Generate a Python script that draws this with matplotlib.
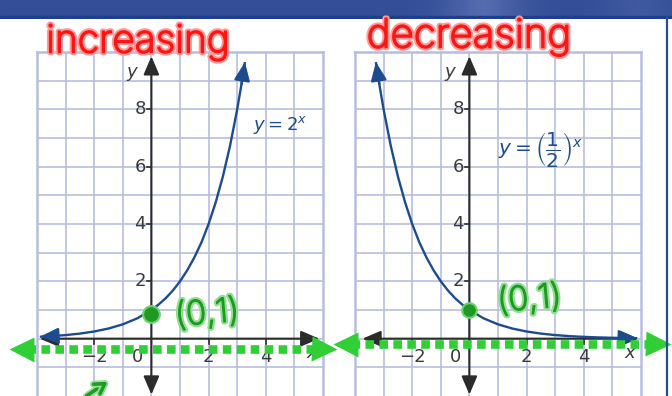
import matplotlib
matplotlib.use("Agg")
import matplotlib.pyplot as plt
import matplotlib.patheffects as pe
from matplotlib.patches import Rectangle
from matplotlib import font_manager
import numpy as np

# ---------------- data ----------------
x_inc = [-3.9, -3.5, -3.0, -2.5, -2.0, -1.5, -1.0, -0.5, 0.0, 0.25, 0.5, 0.75, 1.0,
         1.25, 1.5, 1.75, 2.0, 2.25, 2.5, 2.75, 3.0, 3.15, 3.27]
y_inc = [0.067, 0.088, 0.125, 0.177, 0.25, 0.354, 0.5, 0.707, 1.0, 1.19, 1.41, 1.68, 2.0,
         2.38, 2.83, 3.36, 4.0, 4.76, 5.66, 6.73, 8.0, 8.88, 9.65]
x_dec = [-3.27, -3.15, -3.0, -2.75, -2.5, -2.25, -2.0, -1.75, -1.5, -1.25, -1.0, -0.75, -0.5,
         -0.25, 0.0, 0.5, 1.0, 1.5, 2.0, 2.5, 3.0, 3.5, 4.0, 4.5, 5.0, 5.5, 5.87]
y_dec = [9.65, 8.88, 8.0, 6.73, 5.66, 4.76, 4.0, 3.36, 2.83, 2.38, 2.0, 1.68, 1.41,
         1.19, 1.0, 0.707, 0.5, 0.354, 0.25, 0.177, 0.125, 0.088, 0.0625, 0.044, 0.031, 0.022, 0.017]

ytick_vals = [2, 4, 6, 8]
ytick_labels = ["2", "4", "6", "8"]
xtick_vals = [-2, 2, 4]
xtick_labels = ["\u22122", "2", "4"]
xlabel_zero = "0"

titles = ["increasing", "decreasing"]
equations = [r"$y = 2^x$", r"$y = \left(\dfrac{1}{2}\right)^x$"]
point_labels = ["(0,1)", "(0,1)"]
dot_y = [0.85, 1.0]
green_line_y = [-0.35, -0.2]
green_line_x = [(-4.9, 6.4), (-4.7, 6.95)]

# thin font for hand-written notes
thin = None
for f in font_manager.fontManager.ttflist:
    if f.name in ("Lato", "Open Sans", "Roboto", "DejaVu Sans", "Inter") and f.weight in (100, 200, 250, 275, 300, "light", "extra-light", "thin"):
        thin = f
        break
hand_kw = dict(fontproperties=font_manager.FontProperties(fname=thin.fname)) if thin else dict(fontweight="light")

# ---------------- figure ----------------
W, H = 672, 396
fig = plt.figure(figsize=(W / 100, H / 100), dpi=100)
fig.patch.set_facecolor("white")

# banner at the top
bax = fig.add_axes([0, 1 - 19 / H, 1, 19 / H])
bax.set_axis_off()
xs = np.linspace(0, 1, 300)
grad = np.ones((10, 300)) * (0.45 + 0.25 * np.exp(-((xs - 0.72) / 0.06) ** 2)
                             + 0.1 * np.exp(-((xs - 0.95) / 0.05) ** 2))
bax.imshow(grad, cmap=matplotlib.colors.LinearSegmentedColormap.from_list(
    "bn", ["#24408c", "#4a63a8", "#8fa2d0"]), aspect="auto", vmin=0.3, vmax=1.0,
    extent=[0, 1, 0, 1])
bax.add_patch(Rectangle((0, 0), 1, 0.17, color="#1d3f8c", transform=bax.transAxes))
bax.set_xlim(0, 1); bax.set_ylim(0, 1)

# right border line
fig.add_artist(plt.Line2D([667 / W, 667 / W], [0, 1 - 17 / H], color="#2a4a95", lw=1.6))

GRID = "#b6bde0"
AXC = "#2b2b2b"
BLUE = "#1c4c8e"
GREEN = "#2fcf35"
DKGREEN = "#1e9a22"
RED = "#ff1414"

panels = [(37, x_inc, y_inc), (355, x_dec, y_dec)]
for i, (left_px, xc, yc) in enumerate(panels):
    ax = fig.add_axes([left_px / W, 0, 286 / W, 344 / H])
    ax.set_xlim(-4, 6)
    ax.set_ylim(-2, 10)
    ax.set_xticks([]); ax.set_yticks([])
    for s in ["left", "right", "top"]:
        ax.spines[s].set_color(GRID)
        ax.spines[s].set_linewidth(1.8)
    ax.spines["bottom"].set_visible(False)
    for gx in range(-3, 6):
        ax.axvline(gx, color=GRID, lw=1.2, zorder=0)
    for gy in range(-1, 10):
        ax.axhline(gy, color=GRID, lw=1.2, zorder=0)

    # axes with arrows
    x_left = -3.9 if i == 0 else -3.74
    x_right = 5.87 if i == 0 else 5.9
    ax.annotate("", xy=(x_right, 0), xytext=(x_left, 0),
                arrowprops=dict(arrowstyle="<|-|>,head_length=0.7,head_width=0.3",
                                color=AXC, lw=1.5, shrinkA=0, shrinkB=0,
                                mutation_scale=16), zorder=3)
    ax.annotate("", xy=(0, 9.85), xytext=(0, -1.95),
                arrowprops=dict(arrowstyle="<|-|>,head_length=0.7,head_width=0.3",
                                color=AXC, lw=1.5, shrinkA=0, shrinkB=0,
                                mutation_scale=16), zorder=3)
    for v, lab in zip(ytick_vals, ytick_labels):
        ax.plot([-0.17, 0], [v, v], color=AXC, lw=1.2, zorder=3)
        ax.text(-0.2, v, lab, ha="right", va="center", fontsize=13, color="#3a3a3a")
    for v, lab in zip(xtick_vals, xtick_labels):
        ax.plot([v, v], [0, -0.17], color=AXC, lw=1.2, zorder=3)
        ax.text(v, -0.63, lab, ha="center", va="center", fontsize=13, color="#3a3a3a")
    ax.text(-0.5, -0.63, xlabel_zero, ha="center", va="center", fontsize=13, color="#3a3a3a")
    ax.text(-0.68, 9.3, "y", ha="center", va="center", fontsize=13, style="italic", color="#3a3a3a")
    ax.text(5.6, -0.5, "x", ha="center", va="center", fontsize=13, style="italic", color="#3a3a3a")

    # curve
    ax.plot(xc, yc, color=BLUE, lw=1.7, zorder=4, solid_capstyle="butt")
    for a, b in [(0, 1), (-1, -2)]:
        ax.annotate("", xy=(xc[a], yc[a]), xytext=(xc[b], yc[b]),
                    arrowprops=dict(arrowstyle="-|>,head_length=0.7,head_width=0.3",
                                    color=BLUE, lw=1.7, shrinkA=0, shrinkB=0,
                                    mutation_scale=16), zorder=5)

    # equation
    if i == 0:
        ax.text(4.5, 7.45, equations[0], ha="center", va="center", fontsize=13, color=BLUE)
    else:
        ax.text(2.5, 6.6, equations[1], ha="center", va="center", fontsize=14.5, color=BLUE)

    # green dotted line with arrowheads
    gx0, gx1 = green_line_x[i]
    gy = green_line_y[i]
    ax.plot([gx0 + 0.55, gx1 - 0.55], [gy, gy], color=GREEN, lw=6.2,
            linestyle=(0, (1.0, 0.62)), dash_capstyle="butt", clip_on=False, zorder=6)
    ax.plot([gx0 + 0.35], [gy], marker="<", ms=18, color=GREEN, mec="none", clip_on=False, zorder=6)
    ax.plot([gx1 - 0.35], [gy], marker=">", ms=18, color=GREEN, mec="none", clip_on=False, zorder=6)

    # green dot and label
    ax.plot([0], [dot_y[i]], marker="o", ms=12 if i == 0 else 10.5, color=DKGREEN,
            mec="#6fd070", mew=1.5, zorder=7)
    lx, ly = (1.95, 0.85) if i == 0 else (2.1, 1.35)
    ax.text(lx, ly, point_labels[i], ha="center", va="center", fontsize=24,
            color=DKGREEN, rotation=5, zorder=7,
            path_effects=[pe.Stroke(linewidth=4, foreground="#90e090"),
                          pe.Stroke(linewidth=1.0, foreground=DKGREEN), pe.Normal()], **hand_kw)

    if i == 0:
        ax.annotate("", xy=(-1.45, -1.45), xytext=(-2.35, -2.05),
                    arrowprops=dict(arrowstyle="->,head_length=0.5,head_width=0.3",
                                    color=DKGREEN, lw=2.5, mutation_scale=14,
                                    path_effects=[pe.withStroke(linewidth=5, foreground="#8fe08f")]),
                    annotation_clip=False, zorder=7)

# red handwritten titles
red_fx = [pe.Stroke(linewidth=4, foreground="#ff9a9a"),
          pe.Stroke(linewidth=1.2, foreground=RED), pe.Normal()]
fig.text(138 / W, 1 - 42 / H, titles[0], ha="center", va="center", fontsize=28,
         color=RED, path_effects=red_fx, **hand_kw)
fig.text(469 / W, 1 - 37 / H, titles[1], ha="center", va="center", fontsize=29,
         color=RED, path_effects=red_fx, **hand_kw)

fig.savefig("out.png", dpi=100, facecolor="white")
